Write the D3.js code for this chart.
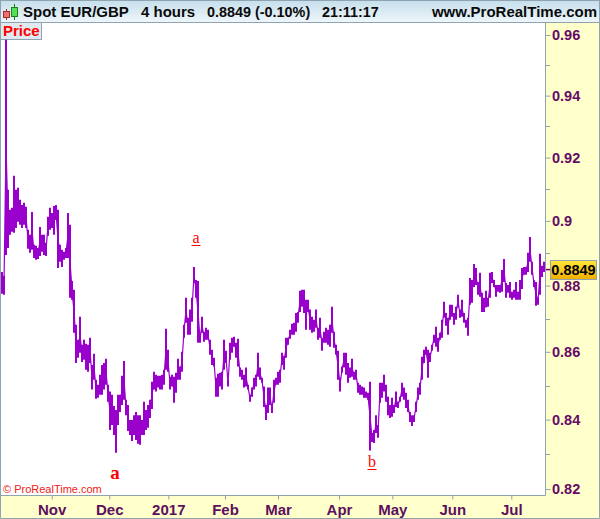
<!DOCTYPE html>
<html>
<head>
<meta charset="utf-8">
<style>
    body { margin: 0; background: #fff; }
    text { font-family: 'Liberation Sans', Arial, sans-serif; }
    .head { font-size: 15px; font-weight: bold; fill: #0a0a0a; }
    .ytick { font-size: 14.5px; font-weight: bold; fill: #660a66; }
    .xtick { font-size: 15px; font-weight: bold; fill: #5c0f5c; }
    .note { font-family: 'Liberation Serif', serif; fill: #f00; }
</style>
</head>
<body>
<svg id="chart" width="600" height="519" style="display:block"></svg>
<script src="https://cdn.jsdelivr.net/npm/d3@7"></script>
<script>
    var high = [
        .8842,.8830,.9584,.9098,.9035,.9041,.9142,.9098,.9104,.9066,
        .9050,.9057,.9044,.8972,.8957,.9028,.8926,.8923,.8916,.8981,
        .8957,.8957,.8932,.9013,.9041,.9025,.9047,.9050,.9035,.8926,
        .8910,.8904,.8916,.9025,.8988,.8814,.8787,.8681,.8636,.8705,
        .8621,.8636,.8624,.8621,.8642,.8561,.8594,.8517,.8502,.8532,
        .8561,.8567,.8579,.8502,.8482,.8473,.8440,.8428,.8473,.8473,
        .8529,.8573,.8458,.8443,.8399,.8399,.8413,.8422,.8413,.8413,
        .8399,.8452,.8428,.8443,.8458,.8511,.8541,.8532,.8529,.8529,
        .8532,.8547,.8669,.8606,.8526,.8532,.8526,.8538,.8579,.8556,
        .8600,.8681,.8763,.8702,.8727,.8763,.8857,.8817,.8814,.8651,
        .8705,.8660,.8672,.8666,.8636,.8606,.8582,.8523,.8535,.8538,
        .8541,.8636,.8603,.8517,.8627,.8642,.8645,.8627,.8639,.8553,
        .8547,.8532,.8553,.8502,.8473,.8494,.8523,.8532,.8597,.8553,
        .8523,.8497,.8443,.8494,.8494,.8443,.8517,.8523,.8541,.8547,
        .8597,.8588,.8642,.8642,.8666,.8684,.8687,.8717,.8720,.8784,
        .8787,.8787,.8757,.8757,.8727,.8705,.8696,.8727,.8672,.8702,
        .8642,.8660,.8672,.8666,.8681,.8736,.8660,.8621,.8603,.8523,
        .8556,.8597,.8597,.8567,.8553,.8579,.8541,.8547,.8508,.8502,
        .8497,.8494,.8482,.8479,.8511,.8361,.8370,.8413,.8384,.8508,
        .8508,.8532,.8502,.8467,.8443,.8464,.8443,.8482,.8452,.8467,
        .8508,.8494,.8479,.8458,.8422,.8413,.8413,.8452,.8494,.8508,
        .8585,.8606,.8615,.8606,.8597,.8621,.8651,.8675,.8642,.8657,
        .8696,.8751,.8717,.8702,.8742,.8742,.8717,.8736,.8772,.8727,
        .8757,.8717,.8696,.8702,.8823,.8817,.8866,.8854,.8811,.8839,
        .8778,.8763,.8784,.8763,.8839,.8842,.8817,.8802,.8802,.8802,
        .8848,.8882,.8808,.8802,.8811,.8781,.8787,.8811,.8781,.8817,
        .8854,.8857,.8857,.8901,.8950,.8873,.8817,.8811,.8763,.8898,
        .8861,.8873
    ];
    var low = [
        .8775,.8772,.8894,.8916,.8957,.8966,.8963,.8978,.8997,.8988,
        .8978,.8988,.8978,.8913,.8901,.8910,.8885,.8879,.8882,.8891,
        .8904,.8894,.8891,.8954,.8972,.8978,.8957,.9003,.8854,.8873,
        .8857,.8879,.8885,.8885,.8763,.8757,.8657,.8567,.8582,.8597,
        .8570,.8576,.8547,.8541,.8567,.8488,.8517,.8461,.8464,.8473,
        .8473,.8488,.8502,.8452,.8370,.8384,.8355,.8304,.8384,.8422,
        .8443,.8458,.8413,.8367,.8355,.8338,.8355,.8341,.8330,.8327,
        .8355,.8355,.8370,.8376,.8405,.8431,.8488,.8482,.8494,.8488,
        .8488,.8502,.8547,.8541,.8488,.8497,.8449,.8479,.8517,.8517,
        .8541,.8642,.8687,.8651,.8651,.8690,.8808,.8763,.8627,.8627,
        .8657,.8630,.8636,.8636,.8591,.8561,.8556,.8467,.8467,.8497,
        .8488,.8547,.8567,.8497,.8576,.8597,.8615,.8582,.8556,.8526,
        .8517,.8494,.8497,.8488,.8452,.8467,.8488,.8497,.8526,.8517,
        .8508,.8437,.8399,.8419,.8443,.8419,.8449,.8502,.8502,.8508,
        .8561,.8547,.8582,.8621,.8639,.8651,.8651,.8660,.8687,.8720,
        .8736,.8717,.8666,.8720,.8666,.8657,.8660,.8672,.8636,.8642,
        .8603,.8627,.8627,.8621,.8615,.8657,.8612,.8591,.8517,.8482,
        .8538,.8553,.8532,.8508,.8523,.8526,.8517,.8517,.8479,.8473,
        .8473,.8464,.8464,.8458,.8310,.8335,.8332,.8361,.8347,.8449,
        .8464,.8482,.8452,.8413,.8405,.8408,.8419,.8437,.8434,.8452,
        .8467,.8458,.8434,.8422,.8393,.8381,.8393,.8422,.8458,.8473,
        .8517,.8567,.8591,.8523,.8570,.8603,.8627,.8615,.8600,.8636,
        .8642,.8702,.8678,.8651,.8696,.8705,.8681,.8696,.8733,.8702,
        .8705,.8687,.8672,.8648,.8742,.8748,.8796,.8802,.8772,.8766,
        .8720,.8720,.8733,.8736,.8763,.8808,.8796,.8766,.8781,.8778,
        .8781,.8811,.8763,.8778,.8763,.8757,.8763,.8757,.8757,.8757,
        .8790,.8833,.8833,.8842,.8873,.8833,.8796,.8739,.8742,.8772,
        .8826,.8842
    ];
    var monthLabels = ['Nov', 'Dec', '2017', 'Feb', 'Mar', 'Apr', 'May', 'Jun', 'Jul'];
    var monthBars = [24.85, 53.65, 83.15, 111.5, 138, 168.5, 195.15, 225.15, 254.65];
    var priceTicks = [0.82, 0.84, 0.86, 0.88, 0.9, 0.92, 0.94, 0.96];
    var minorTicks = [0.83, 0.85, 0.87, 0.89, 0.91, 0.93, 0.95];
    var last = 0.8849;
    var headTexts = ['Spot EUR/GBP', '4 hours', '0.8849 (-0.10%)', '21:11:17'];
    var notes = [
        {bar: 56.5, price: 0.8228, label: 'a', bold: true, under: false},
        {bar: 97, price: 0.8932, label: 'a', bold: false, under: true},
        {bar: 185, price: 0.8264, label: 'b', bold: false, under: true}
    ];

    var plotL = 1, plotR = 546, plotT = 23, plotB = 495;
    var border = '#8fa3b1';
    var svg = d3.select('#chart');
    var x = d3.scaleLinear().domain([0, high.length - 1]).range([2, 544]);
    var y = d3.scaleLog().domain([0.82, 0.96]).range([489, 35]);

    var defs = svg.append('defs');
    function gradient(id, c1, c2) {
        var g = defs.append('linearGradient').attr('id', id)
            .attr('x1', 0).attr('y1', 0).attr('x2', 0).attr('y2', 1);
        g.append('stop').attr('offset', 0).attr('stop-color', c1);
        g.append('stop').attr('offset', 1).attr('stop-color', c2);
    }
    gradient('headGrad', '#c6dfec', '#eef6fa');
    gradient('goldGrad', '#ffe83a', '#f2ad00');

    // panels
    svg.append('rect').attr('width', 600).attr('height', 519).attr('fill', '#ffffcc');
    svg.append('rect').attr('x', plotL).attr('y', plotT).attr('width', plotR - plotL).attr('height', plotB - plotT).attr('fill', '#fff');
    svg.append('rect').attr('x', 0.5).attr('y', 0.5).attr('width', 599).attr('height', 22).attr('fill', 'url(#headGrad)').attr('stroke', border);
    svg.append('path').attr('d', 'M0.5,0V518.5H599.5V0').attr('fill', 'none').attr('stroke', border);
    svg.append('path').attr('d', 'M' + (plotR - 0.5) + ',' + plotT + 'V' + (plotB + 0.5) + 'H0').attr('fill', 'none').attr('stroke', border);

    // header
    svg.append('path').attr('d', 'M6.5,9V20').attr('stroke', '#b02020');
    svg.append('rect').attr('x', 3.5).attr('y', 11.5).attr('width', 6).attr('height', 6).attr('fill', '#f07070').attr('stroke', '#a03030');
    svg.append('path').attr('d', 'M14.5,4V20').attr('stroke', '#108010');
    svg.append('rect').attr('x', 11.5).attr('y', 7.5).attr('width', 6).attr('height', 9).attr('fill', '#55e055').attr('stroke', '#208020');
    var headX = [23, 141, 207, 322];
    var headSize = [15, 15, 14.4, 14.4];
    headTexts.forEach(function(t, i) {
        svg.append('text').attr('class', 'head').attr('x', headX[i]).attr('y', 17).style('font-size', headSize[i] + 'px').text(t);
    });
    svg.append('text').attr('class', 'head').attr('x', 597).attr('y', 17).attr('text-anchor', 'end').text('www.ProRealTime.com');

    svg.append('rect').attr('x', 0.5).attr('y', 22.5).attr('width', 41).attr('height', 17).attr('fill', '#dfeaf0').attr('stroke', border);
    svg.append('text').attr('x', 3).attr('y', 36).attr('fill', '#f00').attr('font-size', 15).attr('font-weight', 'bold').text('Price');

    // price bars
    svg.append('g').selectAll('line').data(high).join('line')
        .attr('x1', function(d, i) { return x(i); })
        .attr('x2', function(d, i) { return x(i); })
        .attr('y1', function(d) { return y(d); })
        .attr('y2', function(d, i) { return y(low[i]); })
        .attr('stroke', '#9900cc')
        .attr('stroke-width', 2);
    // thin line through the bar middles, closes the gaps between bars
    var midLine = d3.line()
        .x(function(d, i) { return x(i); })
        .y(function(d, i) { return y((d + low[i]) / 2); });
    svg.append('path').datum(high).attr('d', midLine)
        .attr('fill', 'none').attr('stroke', '#9900cc').attr('stroke-width', 1.2);

    // notes
    notes.forEach(function(n) {
        svg.append('text').attr('class', 'note')
            .attr('x', x(n.bar)).attr('y', y(n.price))
            .attr('text-anchor', 'middle')
            .attr('font-size', n.bold ? 19 : 16)
            .attr('font-weight', n.bold ? 'bold' : 'normal')
            .text(n.label);
        if (n.under) {
            var uy = Math.round(y(n.price)) + 2.5;
            svg.append('line').attr('x1', x(n.bar) - 4.5).attr('x2', x(n.bar) + 4.5)
                .attr('y1', uy).attr('y2', uy)
                .attr('stroke', '#f00');
        }
    });
    svg.append('text').attr('x', 3).attr('y', 493).attr('fill', '#f02020').attr('font-size', 11).text('\u00a9 ProRealTime.com');

    // y axis
    var yAxis = d3.axisRight(y).tickValues(priceTicks).tickSize(5).tickFormat(function(d) { return String(d); });
    var axisY = svg.append('g').attr('transform', 'translate(' + (plotR - 0.5) + ',0)').call(yAxis);
    axisY.select('.domain').remove();
    axisY.selectAll('line').attr('stroke', border);
    axisY.selectAll('text').attr('class', 'ytick').attr('x', 6.5).attr('fill', null);
    svg.append('g').selectAll('line').data(minorTicks).join('line')
        .attr('x1', plotR).attr('x2', plotR + 4)
        .attr('y1', function(d) { return Math.round(y(d)) + 0.5; })
        .attr('y2', function(d) { return Math.round(y(d)) + 0.5; })
        .attr('stroke', border);

    // x axis
    var xAxis = d3.axisBottom(x).tickValues(monthBars).tickSize(4).tickPadding(9)
        .tickFormat(function(d, i) { return monthLabels[i]; });
    var axisX = svg.append('g').attr('transform', 'translate(0,' + (plotB + 0.5) + ')').call(xAxis);
    axisX.select('.domain').remove();
    axisX.selectAll('line').attr('stroke', border);
    axisX.selectAll('text').attr('class', 'xtick').attr('y', 7).attr('dy', '0.8em').attr('fill', null);

    // last price flag
    svg.append('line').attr('x1', plotR).attr('x2', 551).attr('y1', y(last)).attr('y2', y(last)).attr('stroke', '#660a66').attr('stroke-width', 1.5);
    svg.append('rect').attr('x', 550.5).attr('y', 260.5).attr('width', 46).attr('height', 19).attr('fill', 'url(#goldGrad)').attr('stroke', border);
    svg.append('text').attr('x', 573.5).attr('y', 275).attr('text-anchor', 'middle').attr('font-size', 14.5).attr('font-weight', 'bold').attr('fill', '#000').text(last.toFixed(4));
</script>
</body>
</html>
